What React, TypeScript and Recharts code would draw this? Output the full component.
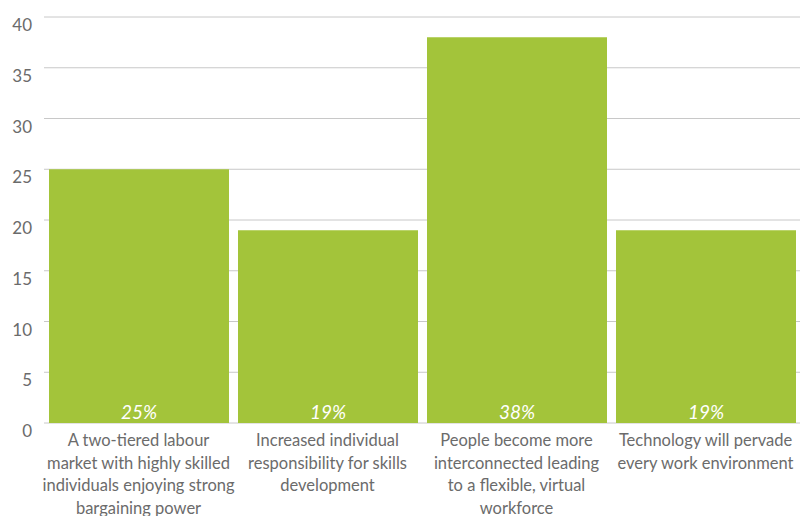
import React from "react";
import { BarChart, Bar, XAxis, YAxis, CartesianGrid, LabelList } from "recharts";

const categories = [
  "A two-tiered labour\nmarket with highly skilled\nindividuals enjoying strong\nbargaining power",
  "Increased individual\nresponsibility for skills\ndevelopment",
  "People become more\ninterconnected leading\nto a flexible, virtual\nworkforce",
  "Technology will pervade\nevery work environment",
];
const shares = [25, 19, 38, 19];
const yTicks = [0, 5, 10, 15, 20, 25, 30, 35, 40];

const data = categories.map((name, i) => ({ name, value: shares[i] }));

const FONT = "Lato, 'Open Sans', sans-serif";
const GREEN = "#a3c43a";
const TEXT = "#6b6b6b";

const CategoryTick = (props: any) => {
  const { x, y, payload } = props;
  const lines = String(payload.value).split("\n");
  return (
    <text x={x} y={y} textAnchor="middle" fill={TEXT} fontSize={16.5} fontFamily={FONT}>
      {lines.map((line: string, i: number) => (
        <tspan key={i} x={x} dy={i === 0 ? 23 : 22.5}>
          {line}
        </tspan>
      ))}
    </text>
  );
};

const ValueTick = (props: any) => {
  const { x, y, payload } = props;
  return (
    <text x={x - 12} y={y + 8} dy="0.36em" textAnchor="end" fill={TEXT} fontSize={17} fontFamily={FONT}>
      {payload.value}
    </text>
  );
};

const InsideLabel = (props: any) => {
  const { x, y, width, height, value } = props;
  return (
    <text
      x={x + width / 2}
      y={y + height - 4}
      textAnchor="middle"
      fill="#ffffff"
      fontSize={19}
      fontStyle="italic"
      fontFamily={FONT}
    >
      {`${value}%`}
    </text>
  );
};

export default function App() {
  return (
    <div style={{ position: "absolute", left: 0, top: 0, width: 808, height: 516, background: "#fff" }}>
      <BarChart
        width={808}
        height={516}
        data={data}
        margin={{ top: 17, right: 8, left: 0, bottom: 0 }}
        barSize={180}
      >
        <CartesianGrid vertical={false} stroke="#c8c8c8" />
        <XAxis
          dataKey="name"
          height={93}
          tickLine={false}
          axisLine={false}
          tickSize={0}
          tickMargin={0}
          interval={0}
          tick={<CategoryTick />}
        />
        <YAxis
          width={44}
          domain={[0, 40]}
          ticks={yTicks}
          tickLine={false}
          axisLine={false}
          tickSize={0}
          tickMargin={0}
          tick={<ValueTick />}
        />
        <Bar dataKey="value" fill={GREEN} isAnimationActive={false}>
          <LabelList dataKey="value" content={<InsideLabel />} />
        </Bar>
      </BarChart>
    </div>
  );
}
